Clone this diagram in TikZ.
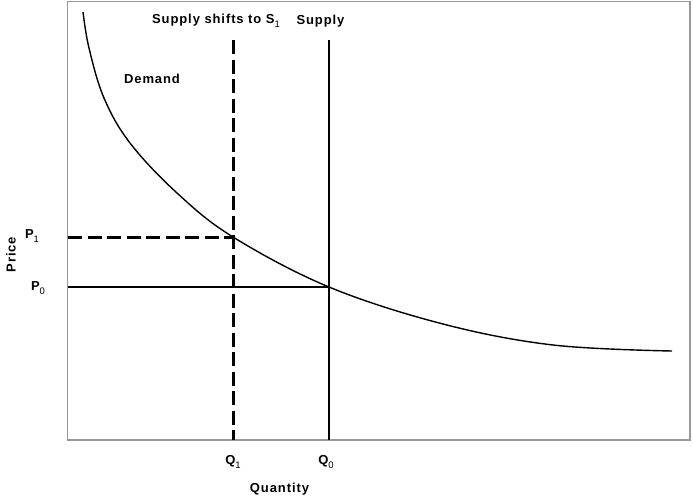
\documentclass[tikz,border=0pt]{standalone}
\usepackage{fontspec}
\setmainfont{Liberation Sans}[LetterSpace=7]
\newcommand{\lowsub}[1]{\raisebox{-3.5pt}{\fontsize{9.5}{10}\selectfont\mdseries #1}}
\begin{document}
\begin{tikzpicture}[x=1pt,y=-1pt,
  lbl/.style={font=\fontsize{13}{15}\selectfont\bfseries, inner sep=0pt, anchor=center},
  frameline/.style={draw=black!40, line width=1.2pt},
  solidline/.style={draw=black, line width=1.6pt},
  dashline/.style={draw=black, line width=3pt, dash pattern=on 14pt off 5.5pt},
  curveline/.style={draw=black, line width=1.4pt}]
\useasboundingbox (0,0) rectangle (693,498);
% frame
\coordinate (fTL) at (67.5,1.5);
\coordinate (fBR) at (690,440);
\draw[frameline] (fTL) rectangle (fBR);
% coordinates
\coordinate (s0top) at (329,40);
\coordinate (s0bot) at (329,440);
\coordinate (s1top) at (233,40);
\coordinate (s1bot) at (233,440);
\coordinate (p0left) at (68,287);
\coordinate (e0) at (329,287);
\coordinate (p1left) at (68,237);
\coordinate (e1) at (233,237);
% supply lines
\draw[solidline] (s0top) -- (s0bot);
\draw[dashline] (s1top) -- (s1bot);
% price lines
\draw[solidline] (p0left) -- (e0);
\draw[dashline] (p1left) -- (e1);
% demand curve
\draw[curveline] plot[smooth, tension=0.6] coordinates {(83,12) (89,48) (104,98) (130,143) (177,193) (233,237) (329,287) (443,324) (553,345) (672,351)};
% labels
\node[lbl] (ls1) at (216,21) {Supply shifts to S\lowsub{1}};
\node[lbl] (ls0) at (320.5,21) {Supply};
\node[lbl] (ldem) at (152,78.5) {Demand};
\node[lbl] (lp1) at (32,236) {P\lowsub{1}};
\node[lbl] (lp0) at (38,288) {P\lowsub{0}};
\node[lbl, rotate=90] (lprice) at (11,254.5) {Price};
\node[lbl] (lq1) at (233,462) {Q\lowsub{1}};
\node[lbl] (lq0) at (326,462) {Q\lowsub{0}};
\node[lbl] (lqty) at (279.5,489) {Quantity};
\end{tikzpicture}
\end{document}
